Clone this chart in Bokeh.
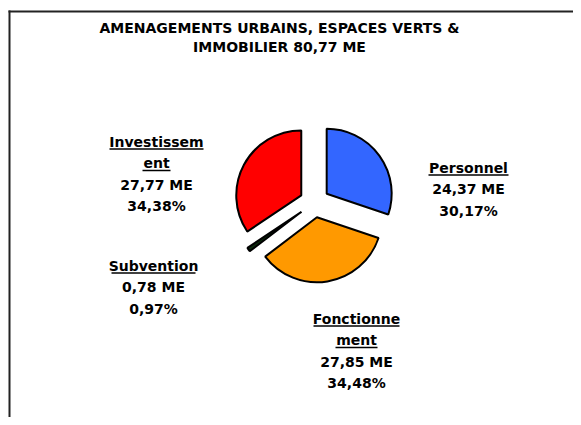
import math
from bokeh.plotting import figure
from bokeh.models import Range1d
from bokeh.core.properties import value
from bokeh.embed import file_html
from bokeh.resources import INLINE

# ---- data ----
categories = ["Personnel", "Fonctionnement", "Subvention", "Investissement"]
amounts = [24.37, 27.85, 0.78, 27.77]          # ME
percents = [30.17, 34.48, 0.97, 34.38]          # %
title_lines = ["AMENAGEMENTS URBAINS, ESPACES VERTS &", "IMMOBILIER 80,77 ME"]
label_names = [["Personnel"], ["Fonctionne", "ment"], ["Subvention"], ["Investissem", "ent"]]
amount_texts = ["24,37 ME", "27,85 ME", "0,78 ME", "27,77 ME"]
percent_texts = ["30,17%", "34,48%", "0,97%", "34,38%"]

# ---- styles / layout ----
colors = ["#3366FF", "#FF9900", "#0A2A0A", "#FF0000"]
explode = [15, 15, 16, 15]
W, H = 573, 417
FONT = "DejaVu Sans"

def sx(x):
    return x

def sy(y):
    return H - y

p = figure(width=W, height=H, x_range=Range1d(0, W), y_range=Range1d(0, H),
           output_backend="svg", toolbar_location=None, min_border=0,
           x_axis_location=None, y_axis_location=None)
p.outline_line_color = None
p.grid.visible = False
p.background_fill_color = "white"

# frame lines (top + left)
p.segment(x0=[sx(8), sx(9)], y0=[sy(11), sy(10)], x1=[sx(W), sx(9)], y1=[sy(11), sy(H)],
          line_color="#222222", line_width=2)

# pie
cx, cy, r = sx(314), sy(202), 65
total = sum(percents)
start = 90.0
for i, pc in enumerate(percents):
    sweep = pc / total * 360.0
    end = start - sweep
    mid = math.radians(start - sweep / 2)
    ox = cx + explode[i] * math.cos(mid)
    oy = cy + explode[i] * math.sin(mid)
    p.wedge(x=[ox], y=[oy], radius=r, start_angle=start, end_angle=end,
            start_angle_units="deg", end_angle_units="deg", direction="clock",
            fill_color=colors[i], line_color="black", line_width=2)
    start = end

# title
for j, t in enumerate(title_lines):
    p.text(x=[sx(279)], y=[sy(27 + 19 * j)], text=[t], text_font=value(FONT),
           text_font_style="bold", text_font_size="14px", text_align="center",
           text_baseline="middle", text_color="black")

# labels: center x, first line y, underline half-widths
label_pos = [(468, 167), (356, 318), (153, 265), (156, 141)]
ul_half = [[40], [43, 21], [42], [47, 14]]
LH = 21.5
for i in range(4):
    lx, ly = label_pos[i]
    lines = label_names[i] + [amount_texts[i], percent_texts[i]]
    for k, t in enumerate(lines):
        yk = ly + LH * k
        p.text(x=[sx(lx)], y=[sy(yk)], text=[t], text_font=value(FONT),
               text_font_style="bold", text_font_size="14px", text_align="center",
               text_baseline="middle", text_color="black")
        if k < len(label_names[i]):
            hw = ul_half[i][k]
            p.segment(x0=[sx(lx - hw)], y0=[sy(yk + 7.5)], x1=[sx(lx + hw)], y1=[sy(yk + 7.5)],
                      line_color="black", line_width=1.4)

open("out.html", "w").write(file_html(p, INLINE))
